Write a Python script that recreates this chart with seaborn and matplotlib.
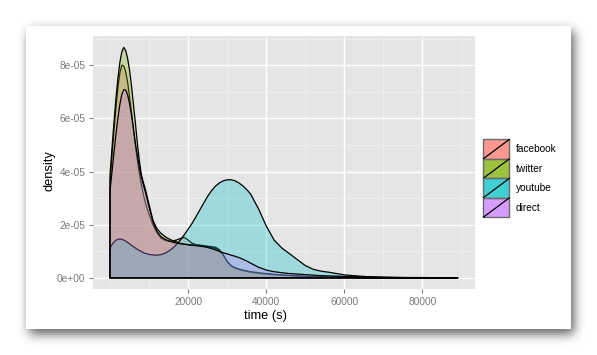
import numpy as np
import matplotlib
matplotlib.use("Agg")
import matplotlib.pyplot as plt
import seaborn as sns
from matplotlib.patches import Rectangle, Patch
from matplotlib.lines import Line2D
from matplotlib.legend_handler import HandlerBase
from matplotlib.ticker import FixedLocator

# ---------------- data (density values in units of 1e-5) ----------------
DENSITY_UNIT = 1e-5
time_s = [0, 500, 1000, 1500, 2000, 2500, 3000, 3500, 4000, 4500, 5000, 5500, 6000, 6500,
          7000, 7500, 8000, 8500, 9000, 9500, 10000,
          11000, 12000, 13000, 14000, 15000, 16000, 17000, 18000, 19000, 20000,
          21000, 22000, 23000, 24000, 25000, 26000, 27000, 28000, 29000, 30000, 31000,
          32000, 33000, 34000, 35000, 36000,
          38000, 40000, 42000, 44000, 46000, 48000, 50000, 52000, 54000, 56000, 58000, 60000,
          65000, 70000, 75000, 80000, 85000, 89000]

facebook = [3.6, 4.6, 5.55, 6.4, 7.15, 7.7, 8.0, 7.98, 7.75, 7.35, 6.8, 6.2, 5.55, 4.95,
            4.4, 3.9, 3.5, 3.15, 2.85, 2.6, 2.38,
            1.98, 1.7, 1.5, 1.41, 1.38, 1.39, 1.42, 1.48, 1.52, 1.42,
            1.3, 1.25, 1.23, 1.21, 1.19, 1.17, 1.15, 1.06, 0.86, 0.6, 0.44, 0.36, 0.31, 0.27, 0.24, 0.21,
            0.17, 0.14, 0.12, 0.1, 0.08, 0.07, 0.05, 0.04, 0.04, 0.03, 0.02, 0.02,
            0.01, 0.0, 0.0, 0.0, 0.0, 0.0]

twitter = [3.9, 4.9, 5.85, 6.75, 7.5, 8.1, 8.5, 8.67, 8.55, 8.25, 7.8, 7.2, 6.5, 5.8,
           5.05, 4.4, 3.9, 3.6, 3.35, 3.05, 2.75,
           2.15, 1.85, 1.68, 1.56, 1.47, 1.4, 1.35, 1.3, 1.27, 1.25,
           1.24, 1.23, 1.21, 1.19, 1.17, 1.14, 1.11, 1.03, 0.85, 0.62, 0.46, 0.38, 0.33, 0.29, 0.26, 0.23,
           0.19, 0.16, 0.13, 0.11, 0.09, 0.07, 0.06, 0.05, 0.04, 0.03, 0.03, 0.02,
           0.01, 0.01, 0.0, 0.0, 0.0, 0.0]

youtube = [1.13, 1.25, 1.34, 1.41, 1.45, 1.46, 1.45, 1.42, 1.38, 1.33, 1.28, 1.22, 1.17, 1.12,
           1.07, 1.03, 0.99, 0.95, 0.92, 0.9, 0.88,
           0.86, 0.85, 0.87, 0.92, 1.0, 1.11, 1.25, 1.42, 1.62, 1.83,
           2.05, 2.3, 2.56, 2.82, 3.07, 3.28, 3.45, 3.57, 3.65, 3.69, 3.69, 3.65, 3.57, 3.46, 3.32, 3.15,
           2.6, 1.95, 1.42, 1.12, 0.9, 0.68, 0.46, 0.32, 0.25, 0.21, 0.16, 0.11,
           0.05, 0.02, 0.01, 0.0, 0.0, 0.0]

direct = [3.3, 4.0, 4.72, 5.4, 6.0, 6.52, 6.9, 7.08, 7.07, 6.88, 6.55, 6.12, 5.6, 5.05,
          4.6, 4.15, 3.78, 3.5, 3.25, 2.95, 2.65,
          2.1, 1.75, 1.55, 1.46, 1.39, 1.34, 1.31, 1.28, 1.26, 1.24,
          1.22, 1.21, 1.19, 1.17, 1.14, 1.1, 1.05, 0.99, 0.94, 0.9, 0.85, 0.81, 0.76, 0.7, 0.63, 0.55,
          0.4, 0.29, 0.23, 0.19, 0.16, 0.14, 0.12, 0.1, 0.08, 0.07, 0.06, 0.05,
          0.03, 0.02, 0.01, 0.01, 0.0, 0.0]

series_names = ["facebook", "twitter", "youtube", "direct"]
series_values = [facebook, twitter, youtube, direct]
series_colors = ["#F8766D", "#7CAE00", "#00BFC4", "#C77CFF"]

x_ticks = [20000, 40000, 60000, 80000]
x_tick_labels = ["20000", "40000", "60000", "80000"]
y_ticks = [0, 2e-5, 4e-5, 6e-5, 8e-5]
y_tick_labels = ["0e+00", "2e-05", "4e-05", "6e-05", "8e-05"]
x_minor = [0, 10000, 30000, 50000, 70000, 90000]
y_minor = [1e-5, 3e-5, 5e-5, 7e-5, 9e-5]

# ---------------- style ----------------
sns.set_theme(style="darkgrid", rc={
    "axes.facecolor": "#E5E5E5",
    "grid.color": "white",
})
plt.rcParams["font.family"] = ["Liberation Sans", "DejaVu Sans"]

W, H = 597, 355
fig = plt.figure(figsize=(W / 100, H / 100), dpi=100, facecolor="white")

# ---------------- card with drop shadow (decoration) ----------------
bg = fig.add_axes([0, 0, 1, 1], zorder=-10)
bg.set_axis_off()
card = (26, 26, 571, 329)  # left, top, right, bottom in px
mask = np.zeros((H, W))
mask[card[1] + 5:card[3] + 5, card[0] + 3:card[2] + 3] = 1.0
sig = 5.5
k = np.arange(-16, 17)
kern = np.exp(-0.5 * (k / sig) ** 2)
kern /= kern.sum()
blur = np.apply_along_axis(lambda r: np.convolve(r, kern, mode="same"), 1, mask)
blur = np.apply_along_axis(lambda c: np.convolve(c, kern, mode="same"), 0, blur)
img = 1.0 - 0.64 * blur
img[card[1]:card[3], card[0]:card[2]] = 1.0
bg.imshow(img, cmap="gray", vmin=0, vmax=1, extent=(0, W, H, 0), aspect="auto",
          interpolation="bilinear")
bg.set_xlim(0, W)
bg.set_ylim(H, 0)

# ---------------- main panel ----------------
pl, pt, pr, pb = 92.7, 36.0, 475.0, 289.3
ax = fig.add_axes([pl / W, (H - pb) / H, (pr - pl) / W, (pb - pt) / H])

t = np.array(time_s, dtype=float)
for name, vals, col in zip(series_names, series_values, series_colors):
    y = np.array(vals) * DENSITY_UNIT
    ax.fill_between(t, 0, y, facecolor=matplotlib.colors.to_rgba(col, 0.3),
                    edgecolor="none", zorder=2)
    xs = np.concatenate([[t[0]], t, [t[-1], t[0]]])
    ys = np.concatenate([[0.0], y, [0.0, 0.0]])
    sns.lineplot(x=xs, y=ys, sort=False, estimator=None, color="black",
                 lw=0.9, ax=ax, zorder=2)

ax.set_xlim(-4450, 93450)
ax.set_ylim(-0.433e-5, 9.1e-5)

ax.xaxis.set_major_locator(FixedLocator(x_ticks))
ax.set_xticklabels(x_tick_labels)
ax.xaxis.set_minor_locator(FixedLocator(x_minor))
ax.yaxis.set_major_locator(FixedLocator(y_ticks))
ax.set_yticklabels(y_tick_labels)
ax.yaxis.set_minor_locator(FixedLocator(y_minor))

ax.grid(which="major", color="white", lw=1.0)
ax.grid(which="minor", color="#F2F2F2", lw=0.5)
ax.set_axisbelow(True)
for s in ax.spines.values():
    s.set_visible(False)

tick_col = "#7A7A7A"
ax.tick_params(axis="both", which="major", length=3.0, width=0.8, color=tick_col,
               labelcolor=tick_col, labelsize=7.3, pad=2.4,
               bottom=True, left=True)
ax.tick_params(axis="both", which="minor", length=0)

ax.set_xlabel("time (s)", fontsize=9.3, color="black")
ax.set_ylabel("density", fontsize=9.3, color="black")
ax.xaxis.set_label_coords((265.5 - pl) / (pr - pl), -(316.0 - pb) / (pb - pt))
ax.xaxis.label.set_va("center")
ax.yaxis.set_label_coords(-(pl - 50.0) / (pr - pl), (pb - 170.8) / (pb - pt))
ax.yaxis.label.set_va("center")


# ---------------- legend ----------------
class SlashKey(HandlerBase):
    def create_artists(self, legend, orig_handle, xdescent, ydescent, width, height,
                       fontsize, trans):
        r = Rectangle((-xdescent, -ydescent), width, height,
                      facecolor=orig_handle.get_facecolor(), edgecolor="#6A6A6A",
                      lw=1.0, transform=trans)
        ln = Line2D([-xdescent, -xdescent + width], [-ydescent, -ydescent + height],
                    color="black", lw=0.9, transform=trans)
        return [r, ln]


handles = [Patch(facecolor=matplotlib.colors.to_rgba(c, 0.75)) for c in series_colors]
leg = fig.legend(handles, series_names, handler_map={Patch: SlashKey()},
                 loc="upper left", bbox_to_anchor=(483.3 / W, (H - 139.3) / H),
                 bbox_transform=fig.transFigure, frameon=False, borderpad=0,
                 borderaxespad=0, labelspacing=0, handlelength=2.58,
                 handleheight=2.58, handletextpad=0.62, fontsize=7.3)
for txt in leg.get_texts():
    txt.set_color("black")

fig.savefig("out.png", dpi=100, facecolor="white")
